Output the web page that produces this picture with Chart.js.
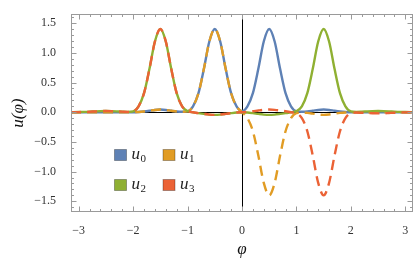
<!DOCTYPE html>
<html>
<head>
<meta charset="utf-8">
<script src="https://cdn.jsdelivr.net/npm/chart.js@4"></script>
<style>
  body { margin: 0; background: #fff; }
</style>
</head>
<body>
<canvas id="chartU" width="415" height="270"></canvas>
<script>
const phi = [
  -3.14, -3.1, -3.0, -2.9, -2.8, -2.7, -2.6, -2.5, -2.4, -2.3, -2.2, -2.1, -2.0,
  -1.9, -1.8, -1.7, -1.6, -1.5, -1.4, -1.3, -1.2, -1.1, -1.0,
  -0.9, -0.8, -0.7, -0.6, -0.5, -0.4, -0.3, -0.2, -0.1,
  0,
  0.1, 0.2, 0.3, 0.4, 0.5, 0.6, 0.7, 0.8, 0.9,
  1.0, 1.1, 1.2, 1.3, 1.4, 1.5, 1.6, 1.7, 1.8, 1.9,
  2.0, 2.1, 2.2, 2.3, 2.4, 2.5, 2.6, 2.7, 2.8, 2.9, 3.0, 3.1, 3.14
];
const u0 = [
  0, 0, 0, 0, 0, 0, 0, 0, 0, 0, 0, 0, 0,
  0.004, 0.012, 0.024, 0.038, 0.045, 0.038, 0.024, 0.012, 0.008, 0.015,
  0.10, 0.32, 0.73, 1.19, 1.40, 1.19, 0.73, 0.32, 0.10,
  0.02,
  0.10, 0.32, 0.73, 1.19, 1.40, 1.19, 0.73, 0.32, 0.10,
  0.015, 0.008, 0.012, 0.024, 0.038, 0.045, 0.038, 0.024, 0.012, 0.004,
  0, 0, 0, 0, 0, 0, 0, 0, 0, 0, 0, 0, 0
];
const u1 = [
  0, 0, 0, 0, 0, 0, 0, 0, 0, 0, 0, 0, 0,
  0.004, 0.012, 0.024, 0.038, 0.045, 0.038, 0.024, 0.012, 0.008, 0.015,
  0.10, 0.32, 0.73, 1.19, 1.40, 1.19, 0.73, 0.32, 0.10,
  0,
  -0.10, -0.32, -0.73, -1.19, -1.40, -1.19, -0.73, -0.32, -0.10,
  -0.015, -0.008, -0.012, -0.024, -0.038, -0.045, -0.038, -0.024, -0.012, -0.004,
  0, 0, 0, 0, 0, 0, 0, 0, 0, 0, 0, 0, 0
];
const u2 = [
  0.002, 0.002, 0.003, 0.005, 0.009, 0.014, 0.018, 0.02, 0.018, 0.014, 0.009, 0.006, 0.015,
  0.10, 0.32, 0.73, 1.19, 1.40, 1.19, 0.73, 0.32, 0.10, 0.02,
  -0.002, -0.016, -0.029, -0.04, -0.045, -0.04, -0.029, -0.016, -0.006,
  -0.004,
  -0.006, -0.016, -0.029, -0.04, -0.045, -0.04, -0.029, -0.016, -0.002,
  0.02, 0.10, 0.32, 0.73, 1.19, 1.40, 1.19, 0.73, 0.32, 0.10,
  0.015, 0.006, 0.009, 0.014, 0.018, 0.02, 0.018, 0.014, 0.009, 0.005, 0.003, 0.002, 0.002
];
const u3 = [
  0, 0.001, 0.002, 0.004, 0.008, 0.013, 0.018, 0.02, 0.018, 0.013, 0.009, 0.006, 0.015,
  0.10, 0.32, 0.73, 1.19, 1.40, 1.19, 0.73, 0.32, 0.10, 0.02,
  0, -0.016, -0.029, -0.04, -0.045, -0.04, -0.029, -0.016, -0.005,
  0,
  0.005, 0.016, 0.029, 0.04, 0.045, 0.04, 0.029, 0.016, 0,
  -0.02, -0.10, -0.32, -0.73, -1.19, -1.40, -1.19, -0.73, -0.32, -0.10,
  -0.015, -0.006, -0.009, -0.013, -0.018, -0.02, -0.018, -0.013, -0.008, -0.004, -0.002, -0.001, 0
];
const xTicks = [-3, -2, -1, 0, 1, 2, 3];
const yTicks = [-1.5, -1.0, -0.5, 0, 0.5, 1.0, 1.5];
const subs = ["0", "1", "2", "3"];

const blue = "#5e81b5";
const orange = "#e19c24";
const green = "#8fb032";
const red = "#eb6235";
const frameGray = "#9a9a9a";
const serif = '"Liberation Serif", "Times New Roman", serif';

const minus = (s) => s.replace("-", "\u2212");
const pts = (ys) => phi.map((x, i) => ({ x: x, y: ys[i] }));

function series(ys, color, dashed, order) {
  return {
    label: "u" + subs[order],
    data: pts(ys),
    showLine: true,
    borderColor: color,
    backgroundColor: color,
    borderWidth: 2.4,
    borderDash: dashed ? [10, 6] : [],
    pointRadius: 0,
    cubicInterpolationMode: "monotone",
    order: 3 - order,
  };
}

// frame with inward ticks, zero axes and the legend box
const mmaFrame = {
  id: "mmaFrame",
  beforeDatasetsDraw(chart) {
    const { ctx, chartArea: a, scales: { x, y } } = chart;
    const x0 = Math.round(x.getPixelForValue(0)) + 0.5;
    const y0 = Math.round(y.getPixelForValue(0)) + 0.5;
    ctx.save();
    ctx.strokeStyle = "#000";
    ctx.lineWidth = 1;
    ctx.beginPath();
    ctx.moveTo(x0, a.top);
    ctx.lineTo(x0, a.bottom);
    ctx.moveTo(a.left, y0);
    ctx.lineTo(a.right, y0);
    ctx.stroke();
    ctx.restore();
  },
  afterDraw(chart) {
    const { ctx, chartArea: a, scales: { x, y } } = chart;
    ctx.save();
    ctx.strokeStyle = frameGray;
    ctx.lineWidth = 1;
    const L = Math.round(a.left) + 0.5, R = Math.round(a.right) - 0.5;
    const T = Math.round(a.top) + 0.5, B = Math.round(a.bottom) - 0.5;
    ctx.strokeRect(L, T, R - L, B - T);
    ctx.beginPath();
    for (let i = -15; i <= 15; i++) {
      const px = Math.round(x.getPixelForValue(i / 5)) + 0.5;
      const len = i % 5 === 0 ? 5 : 2.5;
      ctx.moveTo(px, B); ctx.lineTo(px, B - len);
      ctx.moveTo(px, T); ctx.lineTo(px, T + len);
    }
    for (let i = -16; i <= 16; i++) {
      const py = Math.round(y.getPixelForValue(i / 10)) + 0.5;
      if (py < T || py > B) continue;
      const len = i % 5 === 0 ? 5 : 2.5;
      ctx.moveTo(L, py); ctx.lineTo(L + len, py);
      ctx.moveTo(R, py); ctx.lineTo(R - len, py);
    }
    ctx.stroke();

    // legend
    chart.data.datasets.forEach((ds, i) => {
      const col = i % 2, row = Math.floor(i / 2);
      const sx = 114.5 + col * 48.5, sy = 149.5 + row * 30;
      ctx.fillStyle = ds.borderColor;
      ctx.fillRect(sx, sy, 12, 11);
      ctx.strokeStyle = "rgba(0,0,0,0.3)";
      ctx.strokeRect(sx, sy, 12, 11);
      ctx.fillStyle = "#222";
      ctx.textBaseline = "alphabetic";
      ctx.textAlign = "left";
      ctx.font = "italic 17px " + serif;
      const tx = sx + 17, ty = sy + 9.5;
      ctx.fillText("u", tx, ty);
      const w = ctx.measureText("u").width;
      ctx.font = "11px " + serif;
      ctx.fillText(subs[i], tx + w + 0.5, ty + 3);
    });
    ctx.restore();
  },
};

new Chart(document.getElementById("chartU"), {
  type: "scatter",
  data: {
    datasets: [
      series(u0, blue, false, 0),
      series(u1, orange, true, 1),
      series(u2, green, false, 2),
      series(u3, red, true, 3),
    ],
  },
  options: {
    responsive: false,
    animation: false,
    devicePixelRatio: 1,
    layout: { padding: { top: 1, right: 2, left: 0, bottom: 0 } },
    plugins: { legend: { display: false }, tooltip: { enabled: false } },
    scales: {
      x: {
        type: "linear",
        min: -Math.PI,
        max: Math.PI,
        grid: { display: false },
        border: { display: false },
        afterBuildTicks: (s) => { s.ticks = xTicks.map((v) => ({ value: v })); },
        afterFit: (s) => { s.height = 58; },
        ticks: {
          autoSkip: false,
          maxRotation: 0,
          padding: 4,
          color: "#333",
          font: { family: serif, size: 12 },
          callback: (v) => minus(String(v)),
        },
        title: {
          display: true,
          text: "\u03c6",
          color: "#111",
          font: { family: serif, size: 17, style: "italic" },
          padding: { top: 0, bottom: 10 },
        },
      },
      y: {
        min: -1.68,
        max: 1.65,
        grid: { display: false },
        border: { display: false },
        afterBuildTicks: (s) => { s.ticks = yTicks.map((v) => ({ value: v })); },
        afterFit: (s) => { s.width = 71; },
        ticks: {
          autoSkip: false,
          padding: 7,
          color: "#333",
          font: { family: serif, size: 12 },
          callback: (v) => minus(v.toFixed(1)),
        },
        title: {
          display: true,
          text: "u(\u03c6)",
          color: "#111",
          font: { family: serif, size: 17, style: "italic" },
          padding: { top: 8, bottom: 0 },
        },
      },
    },
  },
  plugins: [mmaFrame],
});
</script>
</body>
</html>
